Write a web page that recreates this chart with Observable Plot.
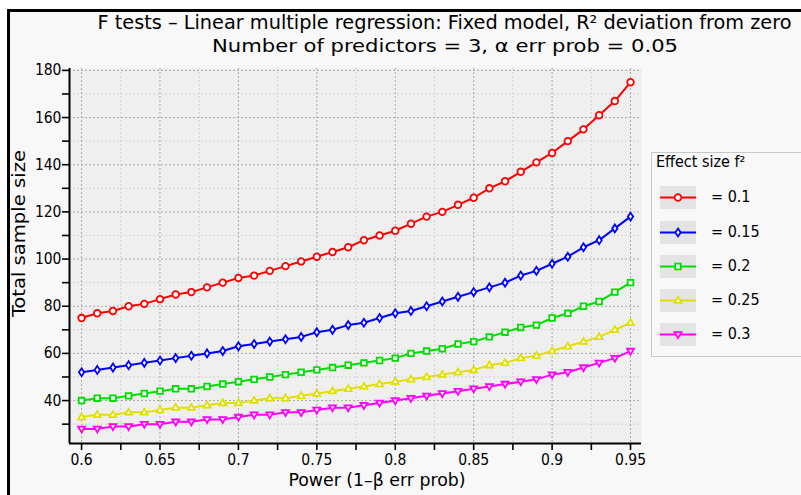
<!DOCTYPE html>
<html><head><meta charset="utf-8">
<script src="https://cdn.jsdelivr.net/npm/d3@7"></script>
<script src="https://cdn.jsdelivr.net/npm/@observablehq/plot@0.6"></script>
<style>
html,body{margin:0;padding:0;background:#fff;}
body{width:801px;height:495px;overflow:hidden;position:relative;font-family:"DejaVu Sans Condensed","DejaVu Sans",sans-serif;font-stretch:condensed;color:#000;}
#frame{position:absolute;left:7px;top:9px;width:900px;height:600px;border-left:3px solid #000;border-top:3px solid #000;background:#f8f8f8;}
#chart{position:absolute;left:0;top:0;}
#texts{position:absolute;left:0;top:0;}
#legend{position:absolute;left:651px;top:152px;width:200px;height:205px;border:1.5px solid #c8c8c8;box-sizing:border-box;}
#legend .lt{position:absolute;left:4px;top:-1px;font-size:16px;}
.row{position:absolute;left:8px;height:23px;}
.row svg{position:absolute;left:0;top:0;}
.row span{position:absolute;left:51px;top:1px;font-size:16px;white-space:nowrap;}
</style>
</head><body>
<div id="frame"></div>
<div id="chart"></div>
<div id="legend"><div class="lt">Effect size f²</div></div>
<script>
// ---- data ----
const power = [0.60,0.61,0.62,0.63,0.64,0.65,0.66,0.67,0.68,0.69,0.70,0.71,0.72,0.73,0.74,0.75,0.76,0.77,0.78,0.79,0.80,0.81,0.82,0.83,0.84,0.85,0.86,0.87,0.88,0.89,0.90,0.91,0.92,0.93,0.94,0.95];
const nF010 = [75,77,78,80,81,83,85,86,88,90,92,93,95,97,99,101,103,105,108,110,112,115,118,120,123,126,130,133,137,141,145,150,155,161,167,175];
const nF015 = [52,53,54,55,56,57,58,59,60,61,63,64,65,66,67,69,70,72,73,75,77,78,80,82,84,86,88,90,93,95,98,101,105,108,113,118];
const nF020 = [40,41,41,42,43,44,45,45,46,47,48,49,50,51,52,53,54,55,56,57,58,60,61,62,64,65,67,69,71,72,75,77,80,82,86,90];
const nF025 = [33,34,34,35,35,36,37,37,38,39,39,40,41,41,42,43,44,45,46,47,48,49,50,51,52,53,55,56,58,59,61,63,65,67,70,73];
const nF030 = [28,28,29,29,30,30,31,31,32,32,33,34,34,35,35,36,37,37,38,39,40,41,42,43,44,45,46,47,48,49,51,52,54,56,58,61];
const effectLabels = ["= 0.1","= 0.15","= 0.2","= 0.25","= 0.3"];
const colors = ["#ff0000","#0000ff","#00dd00","#e0e000","#ff00ff"];
const xMajor = [0.6,0.65,0.7,0.75,0.8,0.85,0.9,0.95];
const xMinor = [0.625,0.675,0.725,0.775,0.825,0.875,0.925];
const yMajor = [40,60,80,100,120,140,160,180];
const yMinor = [30,50,70,90,110,130,150,170];
const titleText = "F tests – Linear multiple regression: Fixed model, R² deviation from zero";
const subtitleText = "Number of predictors = 3, α err prob = 0.05";
const xLabelText = "Power (1–β err prob)";
const yLabelText = "Total sample size";
const legendTitle = "Effect size f²";

// ---- symbols ----
const rad = s => Math.sqrt(s/Math.PI);
const symCircle = {draw(c,s){const r=rad(s);c.moveTo(r,0);c.arc(0,0,r,0,2*Math.PI);c.closePath();}};
const symDiamond = {draw(c,s){const r=rad(s);const w=r*0.8,h=r*1.2;c.moveTo(0,-h);c.lineTo(w,0);c.lineTo(0,h);c.lineTo(-w,0);c.closePath();}};
const symSquare = {draw(c,s){const r=rad(s)*0.85;c.moveTo(-r,-r);c.lineTo(r,-r);c.lineTo(r,r);c.lineTo(-r,r);c.closePath();}};
const symTriUp = {draw(c,s){const r=rad(s);c.moveTo(0,-r*1.1);c.lineTo(r*1.05,r*0.7);c.lineTo(-r*1.05,r*0.7);c.closePath();}};
const symTriDown = {draw(c,s){const r=rad(s);c.moveTo(0,r*1.1);c.lineTo(r*1.05,-r*0.7);c.lineTo(-r*1.05,-r*0.7);c.closePath();}};
const symbols = [symCircle,symDiamond,symSquare,symTriUp,symTriDown];
const seriesValues = [nF010,nF015,nF020,nF025,nF030];

const series = effectLabels.map((lab,k)=>({
  label: lab, color: colors[k], symbol: symbols[k],
  data: power.map((p,i)=>({x:p, y:seriesValues[k][i]}))
}));

const xDom = [0.5923, 0.957];
const yDom = [21.8, 180.8];
const font = '"DejaVu Sans Condensed","DejaVu Sans",sans-serif';

const marks = [
  Plot.frame({fill:"#efefef", stroke:"none"}),
  Plot.gridX(xMinor, {stroke:"#d4d4d4", strokeOpacity:1, strokeDasharray:"2,2"}),
  Plot.gridY(yMinor, {stroke:"#d4d4d4", strokeOpacity:1, strokeDasharray:"2,2"}),
  Plot.gridX(xMajor, {stroke:"#a8a8a8", strokeOpacity:1, strokeDasharray:"2,2"}),
  Plot.gridY(yMajor, {stroke:"#a8a8a8", strokeOpacity:1, strokeDasharray:"2,2"}),
  Plot.axisY(yMajor, {tickSize:7, tickPadding:1, fontSize:15.5, label:null, strokeWidth:1.6, tickFormat:d=>String(d)}),
  Plot.axisY(yMinor, {tickSize:7, tickPadding:1, fontSize:15.5, label:null, strokeWidth:1.6, tickFormat:()=>""}),
  Plot.axisX(xMajor, {tickSize:7, tickPadding:3, fontSize:15.5, label:null, strokeWidth:1.6, tickFormat:d=>String(d)}),
  Plot.axisX(xMinor, {tickSize:7, tickPadding:3, fontSize:15.5, label:null, strokeWidth:1.6, tickFormat:()=>""}),
  Plot.ruleX([xDom[0]], {stroke:"#000", strokeWidth:2}),
  Plot.ruleY([yDom[0]], {stroke:"#000", strokeWidth:2}),
];
for (const s of series) {
  marks.push(Plot.line(s.data, {x:"x", y:"y", stroke:s.color, strokeWidth:2}));
}
for (const s of series) {
  marks.push(Plot.dot(s.data, {x:"x", y:"y", r:3.3, symbol:s.symbol, stroke:s.color, fill:"#ffffff", strokeWidth:1.8}));
}

const chart = Plot.plot({
  width:801, height:495,
  marginLeft:69, marginRight:160, marginTop:68, marginBottom:52,
  x:{domain:xDom, label:null},
  y:{domain:yDom, label:null},
  style:{background:"transparent", fontFamily:font, color:"#000", overflow:"visible"},
  marks
});
document.getElementById("chart").appendChild(chart);

// ---- titles and axis labels (real text) ----
const svg = d3.select("body").append("svg").attr("id","texts")
  .attr("width",801).attr("height",495)
  .style("font-family",'"DejaVu Sans",sans-serif');
function addText(txt, x, y, size, len, rotate) {
  const t = svg.append("text").text(txt)
    .attr("text-anchor","middle").attr("font-size",size)
    .attr("textLength",len).attr("lengthAdjust","spacingAndGlyphs");
  if (rotate) t.attr("transform",`translate(${x},${y}) rotate(-90)`);
  else t.attr("x",x).attr("y",y);
}
addText(titleText, 444.5, 29, 19, 694, false);
addText(subtitleText, 445, 52, 18, 466, false);
addText(xLabelText, 377, 486, 17.5, 177, false);
addText(yLabelText, 25, 233.5, 18, 167, true);

// ---- legend ----
const leg = document.getElementById("legend");
leg.querySelector(".lt").textContent = legendTitle;
const rowTops = [33, 68, 102, 136, 170];
series.forEach((s,k)=>{
  const row = document.createElement("div");
  row.className = "row";
  row.style.top = rowTops[k] + "px";
  const p = d3.path();
  s.symbol.draw(p, Math.PI*3.3*3.3);
  row.innerHTML = `<svg width="36" height="23"><rect x="0" y="0" width="36" height="23" fill="#e4e4e4"/>`+
    `<line x1="0" x2="36" y1="11.5" y2="11.5" stroke="${s.color}" stroke-width="2"/>`+
    `<path d="${p.toString()}" transform="translate(18,11.5)" fill="#fff" stroke="${s.color}" stroke-width="1.8"/></svg>`+
    `<span>${s.label}</span>`;
  leg.appendChild(row);
});
</script>
</body></html>
